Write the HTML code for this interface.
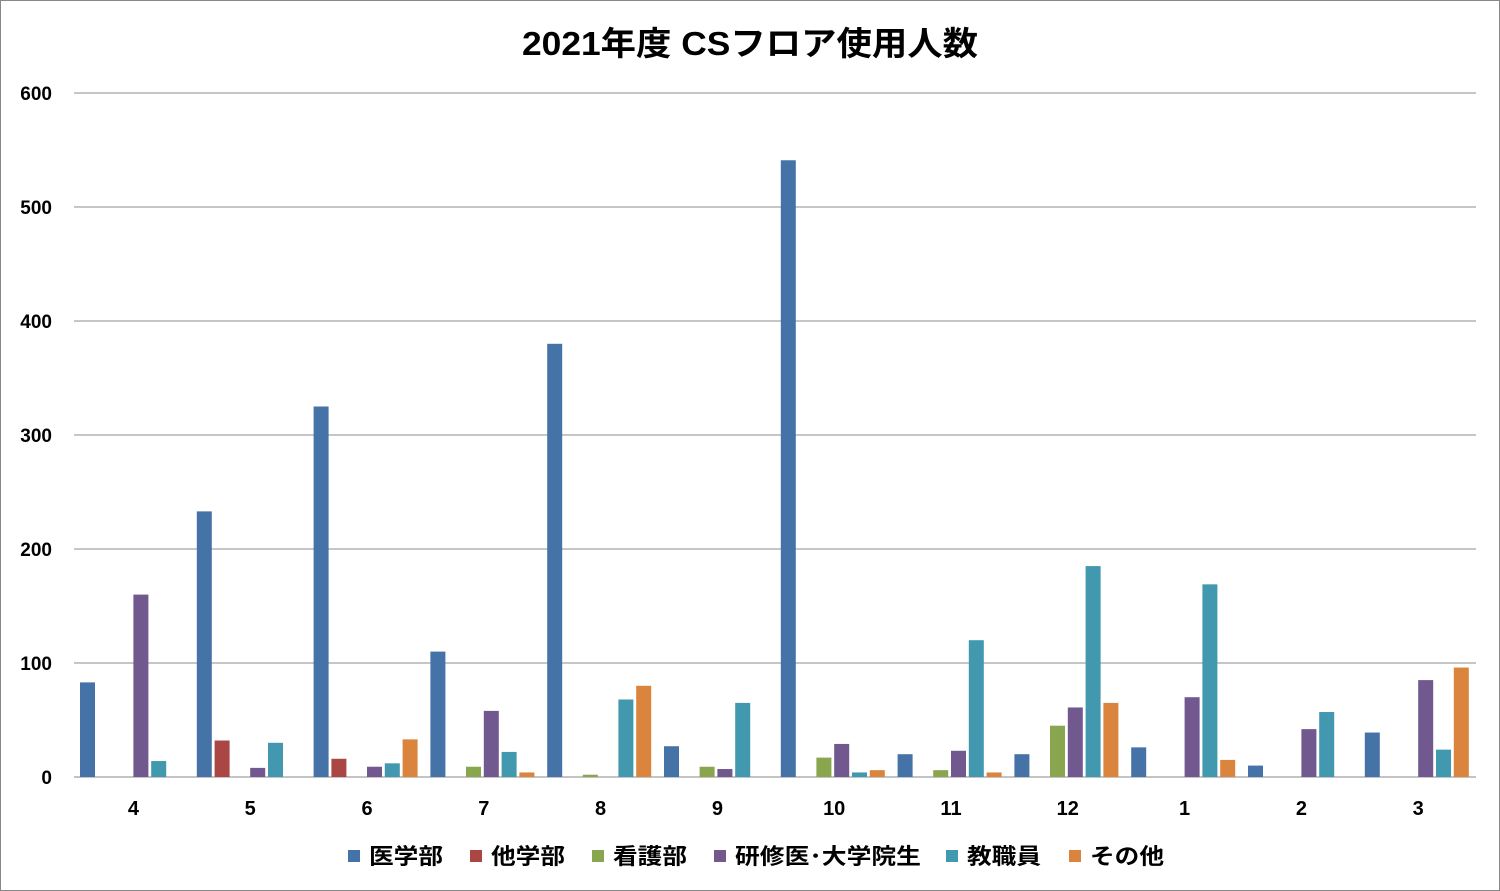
<!DOCTYPE html>
<html><head><meta charset="utf-8"><style>
html,body{margin:0;padding:0;background:#fff;}
svg{display:block;}
text{font-family:"Liberation Sans","Noto Sans CJK JP",sans-serif;font-weight:bold;fill:#000;}
</style></head><body>
<svg id="c" width="1500" height="891" xmlns="http://www.w3.org/2000/svg">
<rect x="0.5" y="0.5" width="1499" height="890" fill="#fff" stroke="#888"/>
<text x="522" y="55" font-size="33" textLength="456" lengthAdjust="spacingAndGlyphs">2021年度 CSフロア使用人数</text>
<g id="g"></g>
</svg>
<script>
var g=document.getElementById('g'),ns='http://www.w3.org/2000/svg';
function el(t,a,txt){var e=document.createElementNS(ns,t);for(var k in a)e.setAttribute(k,a[k]);if(txt!=null)e.textContent=txt;g.appendChild(e);return e;}
var y0=777,sc=1.14;
for(var v=0;v<=600;v+=100){var y=y0-v*sc;el('line',{x1:74,x2:1476,y1:y,y2:y,stroke:v?'#8c8c8c':'#888','stroke-width':1});el('text',{x:52,y:y+7,'text-anchor':'end','font-size':19},String(v));}
var cats=['4','5','6','7','8','9','10','11','12','1','2','3'];
var d=[[83,0,0,160,14,0],[233,32,0,8,30,0],[325,16,0,9,12,33],[110,0,9,58,22,4],[380,0,2,0,68,80],[27,0,9,7,65,0],[541,0,17,29,4,6],[20,0,6,23,120,4],[20,0,45,61,185,65],[26,0,0,70,169,15],[10,0,0,42,57,0],[39,0,0,85,24,96]];
var col=['#4572A7','#AA4643','#89A54E','#71588F','#4198AF','#DB843D'];
var cw=116.8;
for(var i=0;i<12;i++){var cs=75+i*cw;
 for(var j=0;j<6;j++){var v=d[i][j];if(!v)continue;var h=v*sc;el('rect',{x:cs+5+j*17.8,y:y0-h,width:15,height:h,fill:col[j]});}
 el('text',{x:cs+cw/2,y:815,'text-anchor':'middle','font-size':20},cats[i]);}
var names=['医学部','他学部','看護部','研修医･大学院生','教職員','その他'];
var lx=[348,470,592,714,946,1069];
var lw=[74,74,74,186,74,74];
for(var j=0;j<6;j++){el('rect',{x:lx[j],y:850,width:12,height:12,fill:col[j]});el('text',{x:lx[j]+21,y:864,'font-size':22,textLength:lw[j],lengthAdjust:'spacingAndGlyphs'},names[j]);}
</script>
</body></html>
